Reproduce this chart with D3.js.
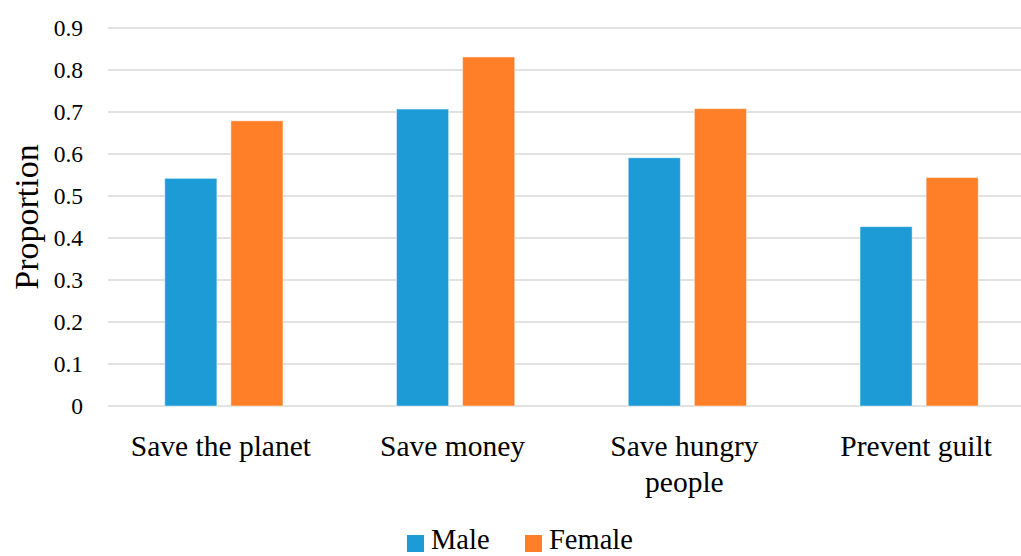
<!DOCTYPE html>
<html><head><meta charset="utf-8">
<script src="https://cdn.jsdelivr.net/npm/d3@7"></script>
<style>body{margin:0;background:#fff}svg{display:block}</style>
</head><body>
<svg id="c" width="1021" height="556"></svg>
<script>
const categories = [["Save the planet"], ["Save money"], ["Save hungry", "people"], ["Prevent guilt"]];
const seriesNames = ["Male", "Female"];
const maleValues = [0.542, 0.707, 0.591, 0.427];
const femaleValues = [0.679, 0.831, 0.708, 0.544];
const yTicks = [0, 0.1, 0.2, 0.3, 0.4, 0.5, 0.6, 0.7, 0.8, 0.9];
const colors = ["#1c9bd7", "#fe7f27"];

const font = "'Liberation Serif', 'Times New Roman', serif";
const svg = d3.select("#c");
const catKeys = categories.map(c => c.join(" "));
const seriesValues = [maleValues, femaleValues];

const x0 = d3.scaleBand().domain(catKeys).range([108, 1035]).paddingInner(0.49).paddingOuter(0.245);
const x1 = d3.scaleBand().domain(seriesNames).range([0, x0.bandwidth()]).paddingInner(0.212);
const y = d3.scaleLinear().domain([0, 0.9]).range([406, 28]);

// gridlines
svg.append("g").selectAll("line").data(yTicks).join("line")
  .attr("x1", 108).attr("x2", 1035)
  .attr("y1", d => y(d)).attr("y2", d => y(d))
  .attr("stroke", "#d9d9d9").attr("stroke-width", d => d === 0 ? 1.6 : 1.3);

// y tick labels
svg.append("g").selectAll("text").data(yTicks).join("text")
  .attr("x", 83).attr("y", d => y(d) + 7.5)
  .attr("text-anchor", "end")
  .attr("font-family", font).attr("font-size", 23.5).attr("fill", "#000")
  .text(d => d === 0 ? "0" : d3.format(".1f")(d));

// bars
const groups = svg.append("g").selectAll("g").data(catKeys).join("g")
  .attr("transform", d => `translate(${x0(d)},0)`);
groups.selectAll("rect").data((d, i) => seriesNames.map((s, j) => ({s, j, v: seriesValues[j][i]})))
  .join("rect")
  .attr("x", d => x1(d.s)).attr("width", x1.bandwidth())
  .attr("y", d => y(d.v)).attr("height", d => y(0) - y(d.v))
  .attr("fill", d => colors[d.j])
  .attr("stroke", "rgba(255,255,255,0.45)").attr("stroke-width", 1);

// category labels
const catG = svg.append("g");
categories.forEach((lines, i) => {
  const cx = x0(catKeys[i]) + x0.bandwidth() / 2 - 3;
  const t = catG.append("text")
    .attr("x", cx)
    .attr("y", 456)
    .attr("text-anchor", "middle")
    .attr("font-family", font).attr("font-size", 29.5).attr("fill", "#000");
  lines.forEach((ln, k) => {
    t.append("tspan").attr("x", cx)
      .attr("dy", k === 0 ? 0 : 36).text(ln);
  });
});

// y axis title
svg.append("text")
  .attr("transform", `translate(38,${(y(0) + y(0.9)) / 2}) rotate(-90)`)
  .attr("text-anchor", "middle")
  .attr("font-family", font).attr("font-size", 34).attr("fill", "#000")
  .text("Proportion");

// legend
const legendX = [407, 525];
const leg = svg.append("g").selectAll("g").data(seriesNames).join("g")
  .attr("transform", (d, i) => `translate(${legendX[i]},0)`);
leg.append("rect").attr("x", 0).attr("y", 535).attr("width", 17).attr("height", 17)
  .attr("fill", (d, i) => colors[i]);
leg.append("text").attr("x", 24).attr("y", 549)
  .attr("font-family", font).attr("font-size", 28.5).attr("fill", "#000")
  .text(d => d);
</script>
</body></html>
